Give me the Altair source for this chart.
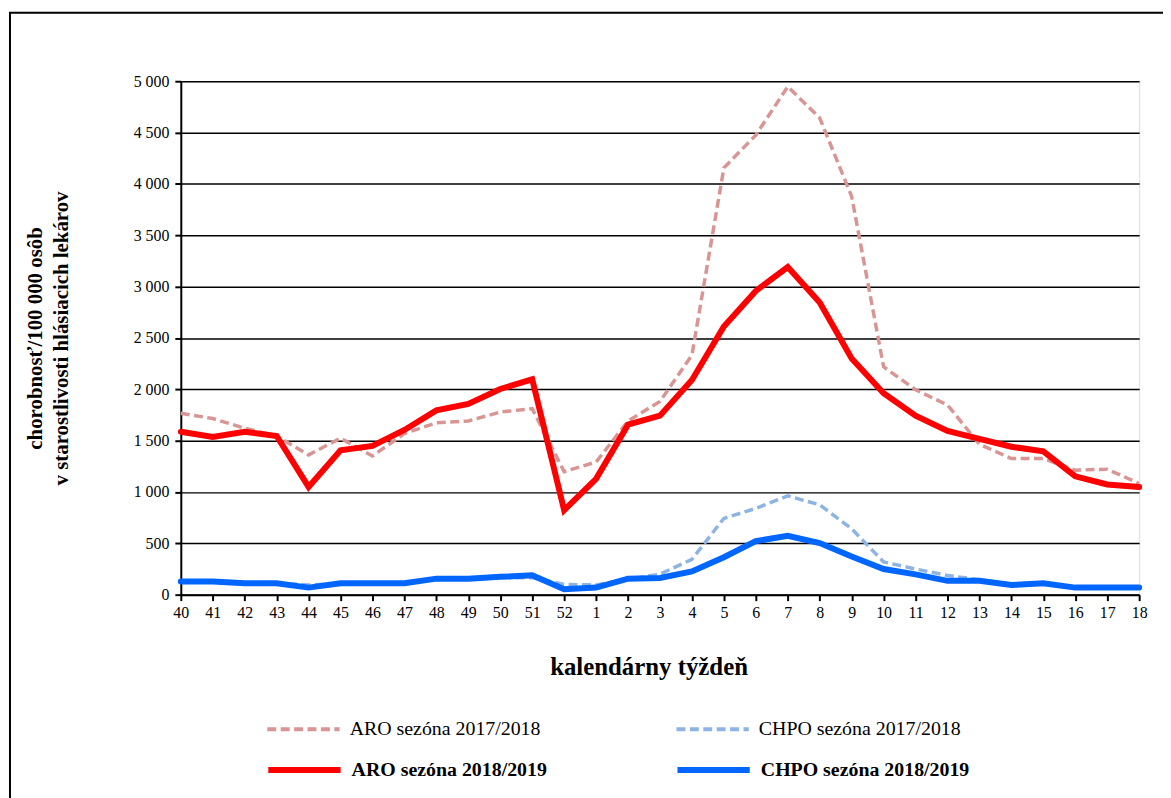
import altair as alt
import pandas as pd

weeks = ["40", "41", "42", "43", "44", "45", "46", "47", "48", "49", "50", "51", "52",
         "1", "2", "3", "4", "5", "6", "7", "8", "9", "10", "11", "12", "13", "14",
         "15", "16", "17", "18"]

aro_1718 = [1767, 1715, 1621, 1545, 1361, 1524, 1351, 1569, 1674, 1691, 1778, 1812, 1198,
            1292, 1691, 1882, 2333, 4156, 4475, 4948, 4642, 3878, 2219, 1996, 1847, 1465,
            1326, 1326, 1212, 1222, 1083]
chpo_1718 = [125, 125, 110, 110, 95, 110, 110, 115, 150, 150, 165, 165, 100,
             95, 150, 200, 344, 743, 840, 962, 875, 642, 319, 250, 187, 146,
             100, 110, 75, 75, 75]
aro_1819 = [1587, 1535, 1587, 1545, 1049, 1406, 1448, 1604, 1795, 1857, 2003, 2097, 823,
            1128, 1656, 1743, 2090, 2611, 2958, 3191, 2844, 2299, 1962, 1743, 1594, 1517,
            1441, 1396, 1153, 1073, 1049]
chpo_1819 = [128, 128, 111, 111, 69, 111, 111, 111, 156, 156, 174, 188, 52,
             69, 156, 163, 226, 365, 521, 573, 503, 372, 250, 198, 135, 135,
             94, 111, 69, 69, 69]

series_names = ["ARO sezóna 2017/2018", "CHPO sezóna 2017/2018",
                "ARO sezóna 2018/2019", "CHPO sezóna 2018/2019"]
series_values = [aro_1718, chpo_1718, aro_1819, chpo_1819]
series_colors = ["#D99594", "#8DB4E2", "#FF0000", "#0066FF"]

rows = []
for name, vals in zip(series_names, series_values):
    for i, (w, v) in enumerate(zip(weeks, vals)):
        rows.append({"week": w, "value": v, "series": name, "idx": i})
df = pd.DataFrame(rows)

FONT = "Times New Roman, Liberation Serif, serif"

x_enc = alt.X(
    "week:N", sort=weeks,
    scale=alt.Scale(type="point", padding=0),
    axis=alt.Axis(
        title="kalendárny týždeň", labelAngle=0, labelFont=FONT, labelFontSize=16,
        labelColor="black", labelPadding=4, domainColor="black", domainWidth=2,
        tickColor="black", tickWidth=2, tickSize=6, grid=False,
        titleFont=FONT, titleFontSize=25, titleFontWeight="bold", titleColor="black",
        titlePadding=34, titleX=471,
    ),
)
y_enc = alt.Y(
    "value:Q",
    scale=alt.Scale(domain=[0, 5000], nice=False),
    axis=alt.Axis(
        values=list(range(0, 5001, 500)),
        labelExpr="replace(format(datum.value, ','), ',', ' ')",
        title=["chorobnosť/100 000 osôb", "v starostlivosti hlásiacich lekárov"],
        labelFont=FONT, labelFontSize=16, labelColor="black", labelPadding=6,
        domainColor="black", domainWidth=2, tickColor="black", tickWidth=2, tickSize=6,
        grid=True, gridColor="black", gridWidth=1.5,
        titleFont=FONT, titleFontSize=21, titleFontWeight="bold", titleColor="black",
        titlePadding=62, titleLineHeight=26,
    ),
)

legend_pos = [(85, 614), (497, 614), (85, 654), (497, 654)]
dashes = [[9, 4.5], [9, 4.5], None, None]
widths = [4, 4, 6, 6]
weights = ["normal", "normal", "bold", "bold"]

layers = []
for k in range(4):
    name = series_names[k]
    mark_kwargs = dict(strokeWidth=widths[k] if k >= 2 else 3.5)
    leg_kwargs = dict(
        orient="none", legendX=legend_pos[k][0], legendY=legend_pos[k][1],
        title=None, symbolType="stroke", symbolSize=5300,
        symbolStrokeWidth=widths[k], labelFont=FONT, labelFontSize=20,
        labelFontWeight=weights[k], labelColor="black", labelOffset=8, padding=0,
        labelLimit=400,
    )
    if dashes[k] is not None:
        mark_kwargs["strokeDash"] = dashes[k]
        leg_kwargs["symbolDash"] = dashes[k]
    else:
        mark_kwargs["strokeCap"] = "round"
    layer = (
        alt.Chart(df)
        .transform_filter(alt.datum.series == name)
        .mark_line(**mark_kwargs)
        .encode(
            x=x_enc, y=y_enc,
            order=alt.Order("idx:Q"),
            color=alt.Color("series:N",
                            scale=alt.Scale(domain=[name], range=[series_colors[k]]),
                            legend=alt.Legend(**leg_kwargs)),
        )
    )
    layers.append(layer)

frame = (
    alt.Chart(pd.DataFrame({"a": [0]}))
    .mark_rect(fillOpacity=0, stroke="black", strokeWidth=2)
    .encode(x=alt.value(-172), x2=alt.value(1300), y=alt.value(-69), y2=alt.value(900))
)

chart = (
    alt.layer(*layers, frame)
    .resolve_scale(color="independent")
    .properties(
        width=965, height=517,
        autosize=alt.AutoSizeParams(type="none"),
        padding={"left": 174, "top": 71, "right": 24, "bottom": 202},
    )
    .configure_view(stroke="black", strokeWidth=2)
    .configure(background="white")
)

chart.save("out.html", embed_options={"renderer": "svg", "actions": False})
